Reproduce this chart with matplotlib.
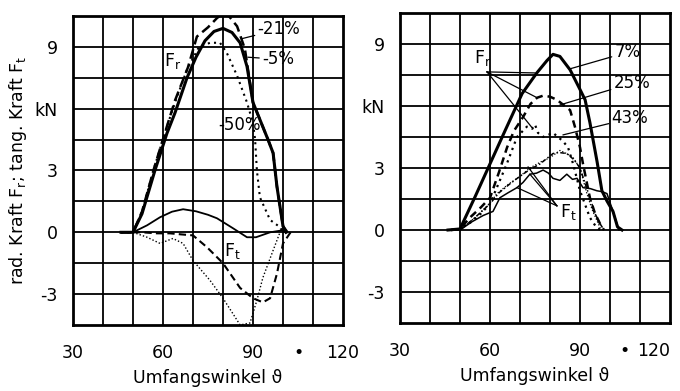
import matplotlib
matplotlib.use("Agg")
import matplotlib.pyplot as plt
import numpy as np

plt.rcParams['font.family'] = ['DejaVu Sans']
plt.rcParams['mathtext.fontset'] = 'dejavusans'

# ---------------- left panel data ----------------
l_fr_a_th = [46, 50, 53, 57.3, 61.3, 64, 68, 71, 74, 77, 80, 83, 85.7, 88, 90, 92.5, 95, 96.7, 98, 100, 101]
l_fr_a = [0, 0, 0.9, 3.0, 4.8, 5.8, 7.5, 8.5, 9.3, 9.75, 9.9, 9.7, 9.2, 8.05, 6.3, 5.4, 4.5, 3.85, 2.2, 0.3, 0]   # -5 %

l_fr_b_th = [46, 50, 53, 57, 61, 64, 68.3, 71.3, 75, 78, 80.7, 82.5, 84.7, 87.3, 90, 92.5, 95, 96.7, 98, 100, 101.5]
l_fr_b = [0, 0, 1.0, 3.1, 5.0, 6.4, 8.0, 9.5, 9.95, 10.4, 10.7, 10.4, 10.0, 8.9, 6.3, 5.4, 4.5, 3.85, 2.2, 0.3, 0]  # -21 %

l_fr_c_th = [46, 50, 53, 57, 61, 64, 68, 72, 75.7, 79, 81.3, 84.7, 88, 90, 90.7, 91.3, 92.3, 95.7, 99, 100]
l_fr_c = [0, 0, 1.0, 3.1, 5.0, 6.3, 7.9, 9.0, 9.2, 9.2, 8.7, 7.6, 6.3, 5.3, 4.5, 3.0, 1.7, 0.6, 0.25, 0]       # -50 %

l_ft_a_th = [46, 50, 54.7, 59, 63, 66.7, 71, 75, 78, 83.3, 88, 91, 95.7, 100, 101]
l_ft_a = [0, 0, 0.34, 0.73, 1.0, 1.12, 1.02, 0.85, 0.68, 0.2, -0.24, -0.24, 0, 0.1, 0]

l_ft_b_th = [50, 53, 58, 62.3, 66, 70, 74.7, 80, 85.7, 90, 93.3, 95.7, 98, 100, 103]
l_ft_b = [0, 0, -0.05, -0.05, -0.1, -0.15, -0.73, -1.5, -2.7, -3.2, -3.4, -3.2, -2.0, -0.54, 0.1]

l_ft_c_th = [50, 54.7, 59, 63.3, 66.7, 70, 75.7, 80, 83.3, 85.7, 89, 91.3, 93.3, 96.7, 99]
l_ft_c = [0, -0.24, -0.54, -0.3, -0.54, -1.37, -2.34, -3.2, -3.95, -4.5, -4.4, -3.3, -2.2, -0.88, 0]

# ---------------- right panel data ----------------
r_fr_a_th = [46, 50, 55, 60, 65, 70.7, 75.6, 79, 81, 83.3, 86.7, 90, 91.7, 93.3, 95.7, 97.3, 99, 101, 102.5, 104]
r_fr_a = [0, 0.05, 1.6, 3.2, 4.8, 6.6, 7.6, 8.2, 8.5, 8.4, 7.75, 6.8, 6.3, 5.2, 3.3, 1.9, 1.4, 0.9, 0.15, 0]      # 7 %

r_fr_b_th = [47, 50, 53.3, 57, 60, 63, 65.7, 68, 71, 73.5, 75.7, 77.7, 80, 82.3, 86.7, 88.3, 90, 91, 93.3, 95, 96.7, 98]
r_fr_b = [0, 0.05, 0.6, 1.1, 1.56, 2.8, 4.0, 4.8, 5.46, 6.1, 6.4, 6.5, 6.45, 6.3, 5.8, 5.0, 4.0, 3.2, 1.56, 0.8, 0.3, 0]  # 25 %

r_fr_c_th = [47, 50, 54.3, 57, 60, 63, 65.6, 69, 72.3, 74, 75, 76, 77.7, 81, 84.3, 86, 87.7, 90, 93.3, 95.6, 97]
r_fr_c = [0, 0.05, 0.44, 0.8, 1.27, 2.3, 3.2, 4.5, 5.0, 4.9, 5.1, 4.7, 4.5, 4.7, 4.3, 4.0, 3.2, 1.9, 0.6, 0.1, 0]   # 43 %

r_ft_a_th = [50, 54, 57.7, 61, 63.3, 66, 69, 71, 73.3, 75.5, 77.7, 79.5, 81, 83.3, 85.6, 87.5, 89, 91, 93.5, 95.6, 97.5, 99, 101, 103]
r_ft_a = [0, 0.4, 0.7, 0.9, 1.56, 1.8, 2.05, 2.3, 2.7, 2.75, 2.9, 2.75, 2.5, 2.4, 2.7, 2.45, 2.5, 2.05, 2.0, 1.9, 1.85, 1.76, 0.9, 0]

r_ft_b_th = [50, 55, 60, 63, 66.7, 70, 73, 76.7, 81, 83, 85.6, 88, 90, 93.3, 95, 96.7, 98]
r_ft_b = [0, 0.6, 1.27, 1.8, 2.24, 2.6, 2.9, 3.2, 3.7, 3.75, 3.7, 3.4, 3.0, 1.56, 0.8, 0.3, 0]

r_ft_c_th = [50, 55, 60, 62.3, 66, 70, 73.3, 77, 80, 83.3, 85.5, 87.7, 90, 92.3, 94, 95.7, 97]
r_ft_c = [0, 0.6, 1.3, 1.76, 2.2, 2.6, 3.0, 3.3, 3.5, 3.85, 3.7, 3.5, 3.0, 1.76, 1.0, 0.44, 0]

x_ticks = [30, 60, 90, 105, 120]
x_ticklabels = ["30", "60", "90", "\u2022", "120"]
y_ticks = [-3, 0, 3, 6, 9]
y_ticklabels = ["-3", "0", "3", "kN", "9"]

FS = 12.5

fig = plt.figure(figsize=(6.8, 3.91), dpi=100)
axL = fig.add_axes([73/680, 66/391, 270/680, 309/391])
axR = fig.add_axes([400/680, 68/391, 270/680, 310/391])

for ax in (axL, axR):
    ax.set_xlim(30, 120)
    ax.set_ylim(-4.5, 10.5)
    for gx in np.arange(40, 120, 10):
        ax.axvline(gx, color='black', lw=1.3, zorder=1)
    for gy in np.arange(-3, 10.5, 1.5):
        ax.axhline(gy, color='black', lw=1.3, zorder=1)
    for s in ax.spines.values():
        s.set_linewidth(2.0)
    ax.set_xticks(x_ticks)
    ax.set_xticklabels(x_ticklabels, fontsize=FS)
    ax.set_yticks(y_ticks)
    ax.set_yticklabels(y_ticklabels, fontsize=FS)
    ax.tick_params(axis='y', length=0, pad=11)
    ax.tick_params(axis='x', length=0, pad=14)
    ax.set_xlabel("Umfangswinkel \u03d1", fontsize=FS, labelpad=5)

# keep the right-panel "120" inside the figure
lbl = axR.get_xticklabels()[-1]
lbl.set_horizontalalignment('right')
lbl.set_x(121.5)

axL.set_ylabel("rad. Kraft F$_\\mathrm{r}$; tang. Kraft F$_\\mathrm{t}$", fontsize=FS, labelpad=4)

# left curves
axL.plot(l_fr_a_th, l_fr_a, color='black', lw=2.2, ls='-', zorder=3)
axL.plot(l_fr_b_th, l_fr_b, color='black', lw=1.8, ls=(0, (4, 2)), zorder=3)
axL.plot(l_fr_c_th, l_fr_c, color='black', lw=1.5, ls=(0, (1, 2)), zorder=3)
axL.plot(l_ft_a_th, l_ft_a, color='black', lw=1.3, ls='-', zorder=3)
axL.plot(l_ft_b_th, l_ft_b, color='black', lw=1.5, ls=(0, (3.5, 2)), zorder=3)
axL.plot(l_ft_c_th, l_ft_c, color='black', lw=1.0, ls=(0, (1, 1.5)), zorder=3)

kw = dict(arrowprops=dict(arrowstyle='-', color='black', lw=0.9, shrinkA=0, shrinkB=0),
          fontsize=FS - 0.5, va='center', ha='left')
axL.annotate("-21%", xy=(86.3, 9.4), xytext=(91.5, 9.85), **kw)
axL.annotate("-5%", xy=(88.3, 8.5), xytext=(93, 8.4), **kw)
axL.text(78.3, 5.2, "-50%", fontsize=FS - 0.5, va='center', ha='left')
axL.text(60.5, 8.3, "F$_\\mathrm{r}$", fontsize=FS, va='center', ha='left')
axL.text(80.5, -0.9, "F$_\\mathrm{t}$", fontsize=FS, va='center', ha='left')

# right curves
axR.plot(r_fr_a_th, r_fr_a, color='black', lw=2.2, ls='-', zorder=3)
axR.plot(r_fr_b_th, r_fr_b, color='black', lw=1.8, ls=(0, (3, 2)), zorder=3)
axR.plot(r_fr_c_th, r_fr_c, color='black', lw=1.6, ls=(0, (1, 2)), zorder=3)
axR.plot(r_ft_a_th, r_ft_a, color='black', lw=1.1, ls='-', zorder=3)
axR.plot(r_ft_b_th, r_ft_b, color='black', lw=1.1, ls=(0, (3, 1.5, 1, 1.5)), zorder=3)
axR.plot(r_ft_c_th, r_ft_c, color='black', lw=0.9, ls=(0, (1, 1.5)), zorder=3)

lk = dict(color='black', lw=0.9, zorder=4)
axR.text(54.5, 8.3, "F$_\\mathrm{r}$", fontsize=FS, va='center', ha='left')
for tx, ty in [(75, 7.6), (75.7, 6.4), (74.3, 4.9)]:
    axR.plot([59, tx], [7.65, ty], **lk)
axR.annotate("7%", xy=(86.7, 7.8), xytext=(101.5, 8.6), **kw)
axR.annotate("25%", xy=(83.3, 6.05), xytext=(101.2, 7.1), **kw)
axR.annotate("43%", xy=(84.3, 4.6), xytext=(100.5, 5.4), **kw)
axR.text(83.3, 0.85, "F$_\\mathrm{t}$", fontsize=FS, va='center', ha='left')
for tx, ty in [(73.3, 2.7), (69, 2.05), (72.7, 3.05)]:
    axR.plot([82.3, tx], [1.17, ty], **lk)

fig.savefig("out.png", dpi=100)
